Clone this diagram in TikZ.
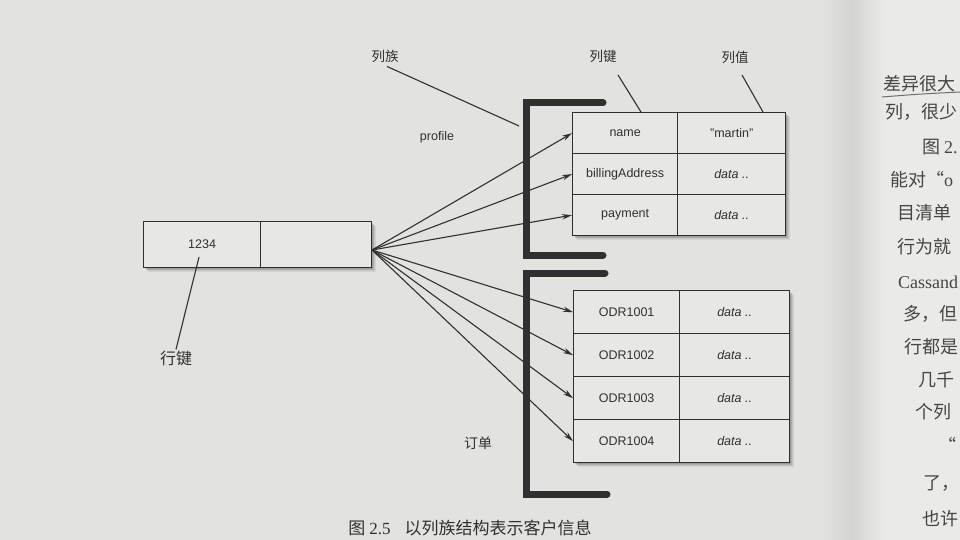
\documentclass[tikz,border=0pt]{standalone}
\usepackage{fontspec}
\setmainfont{Liberation Sans}
\newfontfamily\cjk{Noto Sans CJK SC}
\newfontfamily\serifl{Liberation Serif}
\usetikzlibrary{arrows.meta,calc}
\definecolor{pagebg}{RGB}{226,226,223}
\definecolor{rightbg}{RGB}{234,234,231}
\definecolor{foldbg}{RGB}{212,212,209}
\definecolor{ink}{RGB}{48,48,48}
\definecolor{cellbg}{RGB}{231,231,228}
\tikzset{
  cell/.style={draw=ink, line width=1.3pt, fill=cellbg, anchor=north west, inner sep=0pt,
    minimum height=#1, text=ink, font=\fontsize{12.5}{14}\selectfont},
  keycell/.style={cell=41pt, minimum width=105pt},
  valcell/.style={cell=41pt, minimum width=108pt},
  okeycell/.style={cell=43pt, minimum width=106pt},
  ovalcell/.style={cell=43pt, minimum width=110pt},
  bracket/.style={draw=ink, line width=7pt, line cap=round, line join=miter},
  arr/.style={draw=ink, line width=1.1pt, -{Stealth[length=10pt,width=5.5pt]}},
  leader/.style={draw=ink, line width=1.1pt},
  cjklab/.style={text=ink, font=\cjk\fontsize{13.5}{15}\selectfont, inner sep=1pt},
  pagetxt/.style={anchor=west, text=ink!90, font=\cjk\fontsize{18}{20}\selectfont, inner sep=0pt},
}
\newcommand{\shadowbox}[2]{%
  \foreach \s/\o in {1/0.14,2/0.12,3/0.10,4/0.08,5/0.06}{%
    \fill[black, opacity=\o] ($(#1)+(\s,\s)$) rectangle ($(#2)+(\s,\s)$);}}
\begin{document}
\begin{tikzpicture}[x=1pt,y=-1pt]
\useasboundingbox (0,0) rectangle (960,540);
% page background
\fill[pagebg] (0,0) rectangle (960,540);
\shade[left color=pagebg, right color=foldbg] (820,0) rectangle (852,540);
\shade[left color=foldbg, right color=rightbg] (852,0) rectangle (885,540);
\fill[rightbg] (885,0) rectangle (960,540);

% shadows
\coordinate (s1a) at (572,112); \coordinate (s1b) at (785,235);
\coordinate (s2a) at (573,290); \coordinate (s2b) at (789,462);
\coordinate (s3a) at (143,221); \coordinate (s3b) at (371,267);
\shadowbox{s1a}{s1b}
\shadowbox{s2a}{s2b}
\shadowbox{s3a}{s3b}

% profile column family table
\node[keycell] (k1) at (572,112) {name};
\node[valcell] (v1) at (677,112) {"martin"};
\node[keycell] (k2) at (572,153) {billingAddress};
\node[valcell] (v2) at (677,153) {\itshape data ..};
\node[keycell] (k3) at (572,194) {payment};
\node[valcell] (v3) at (677,194) {\itshape data ..};

% orders column family table
\node[okeycell] (k4) at (573,290) {ODR1001};
\node[ovalcell] (v4) at (679,290) {\itshape data ..};
\node[okeycell] (k5) at (573,333) {ODR1002};
\node[ovalcell] (v5) at (679,333) {\itshape data ..};
\node[okeycell] (k6) at (573,376) {ODR1003};
\node[ovalcell] (v6) at (679,376) {\itshape data ..};
\node[okeycell] (k7) at (573,419) {ODR1004};
\node[ovalcell] (v7) at (679,419) {\itshape data ..};

% row
\node[cell=46pt, minimum width=117pt] (rk) at (143,221) {1234};
\node[cell=46pt, minimum width=111pt] (rv) at (260,221) {};

% brackets
\draw[bracket] (603,103) -- (526,103) -- (526,255) -- (603,255);
\draw[bracket] (605,273) -- (526,273) -- (526,494) -- (607,494);

% fan of arrows
\coordinate (fan) at (372,250);
\foreach \t in {k1,k2,k3,k4,k5,k6,k7}{\draw[arr] (fan) -- (\t.west);}

% labels
\node[cjklab] (lz) at (385,56) {列族};
\coordinate (lzend) at (519,126);
\draw[leader] ($(lz.south)+(2,3)$) -- (lzend);

\node[cjklab] (lj) at (603,56) {列键};
\coordinate (ljs) at (618,75); \coordinate (lje) at (641,112);
\draw[leader] (ljs) -- (lje);

\node[cjklab] (lv) at (735,57) {列值};
\coordinate (lvs) at (742,75); \coordinate (lve) at (763,112);
\draw[leader] (lvs) -- (lve);

\node[cjklab, font=\cjk\fontsize{16}{18}\selectfont] (hj) at (176,358) {行键};
\coordinate (hjs) at (199,257);
\draw[leader] (hjs) -- (hj.north);

\node[text=ink, font=\fontsize{12.5}{14}\selectfont] (prof) at (437,137) {profile};
\node[cjklab, font=\cjk\fontsize{14}{16}\selectfont] (dd) at (478,443) {订单};

% caption
\node[text=ink, font=\cjk\fontsize{17}{19}\selectfont] (cap) at (470,528) {图 {\serifl 2.5}\hspace{14pt}以列族结构表示客户信息};

% right page text (only the part inside the photo)
\draw[ink!70, line width=1pt] (882,97) .. controls (920,94) .. (960,92);
\node[pagetxt] (r1) at (883,84) {差异很大};
\node[pagetxt] (r2) at (885,112) {列，很少};
\node[pagetxt] (r3) at (922,147) {图 {\serifl 2.}};
\node[pagetxt] (r4) at (890,180) {能对“{\serifl o}};
\node[pagetxt] (r5) at (897,213) {目清单};
\node[pagetxt] (r6) at (897,247) {行为就};
\node[pagetxt, font=\serifl\fontsize{18}{20}\selectfont] (r7) at (898,282) {Cassand};
\node[pagetxt] (r8) at (903,314) {多，但};
\node[pagetxt] (r9) at (904,347) {行都是};
\node[pagetxt] (r10) at (918,380) {几千};
\node[pagetxt] (r11) at (915,412) {个列};
\node[pagetxt] (r12) at (938,445) {“};
\node[pagetxt] (r13) at (923,484) {了，};
\node[pagetxt] (r14) at (922,519) {也许};
\end{tikzpicture}
\end{document}
